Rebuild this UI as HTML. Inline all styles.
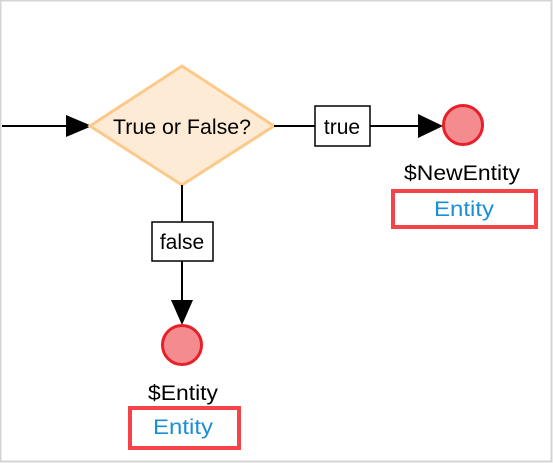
<!DOCTYPE html>
<html><head><style>
body{margin:0;width:553px;height:463px;background:#fff;overflow:hidden}
svg{display:block}
text{font-family:"Liberation Sans","DejaVu Sans",sans-serif}
</style></head><body>
<svg width="553" height="463" viewBox="0 0 553 463">
<rect x="0.5" y="0.5" width="551" height="461" fill="#fff" stroke="#d4d4d4" stroke-width="2"/>
<line x1="2" y1="126" x2="68" y2="126" stroke="#000" stroke-width="2"/>
<polygon points="66,115 92,126 66,137" fill="#000"/>
<polygon points="182,66 274,126 182,185 90,126" fill="#fdebd6" stroke="#fcc98a" stroke-width="3"/>
<text x="182" y="134" font-size="21" text-anchor="middle" textLength="138" lengthAdjust="spacingAndGlyphs">True or False?</text>
<line x1="274" y1="126" x2="420" y2="126" stroke="#000" stroke-width="2"/>
<rect x="315" y="106" width="55" height="40" fill="#fff" stroke="#000" stroke-width="1.5"/>
<text x="342" y="134" font-size="21" text-anchor="middle">true</text>
<polygon points="418,114 443,126 418,138" fill="#000"/>
<circle cx="463" cy="125" r="19.5" fill="#f48c8f" stroke="#e8202a" stroke-width="3"/>
<text x="462" y="180" font-size="21" text-anchor="middle" textLength="116" lengthAdjust="spacingAndGlyphs">$NewEntity</text>
<rect x="393" y="191" width="143" height="36" fill="#fff" stroke="#f44448" stroke-width="4"/>
<text x="464" y="216" font-size="21" fill="#1a8fd6" text-anchor="middle" textLength="60" lengthAdjust="spacingAndGlyphs">Entity</text>
<line x1="182" y1="185" x2="182" y2="305" stroke="#000" stroke-width="2"/>
<rect x="152" y="222" width="61" height="39" fill="#fff" stroke="#000" stroke-width="1.5"/>
<text x="182" y="249" font-size="21" text-anchor="middle">false</text>
<polygon points="171,300 182,325 193,300" fill="#000"/>
<circle cx="182" cy="345" r="19.5" fill="#f48c8f" stroke="#e8202a" stroke-width="3"/>
<text x="183" y="400" font-size="21" text-anchor="middle" textLength="70" lengthAdjust="spacingAndGlyphs">$Entity</text>
<rect x="130" y="408" width="109" height="40" fill="#fff" stroke="#f44448" stroke-width="4"/>
<text x="183" y="434" font-size="21" fill="#1a8fd6" text-anchor="middle" textLength="60" lengthAdjust="spacingAndGlyphs">Entity</text>
</svg>
</body></html>
